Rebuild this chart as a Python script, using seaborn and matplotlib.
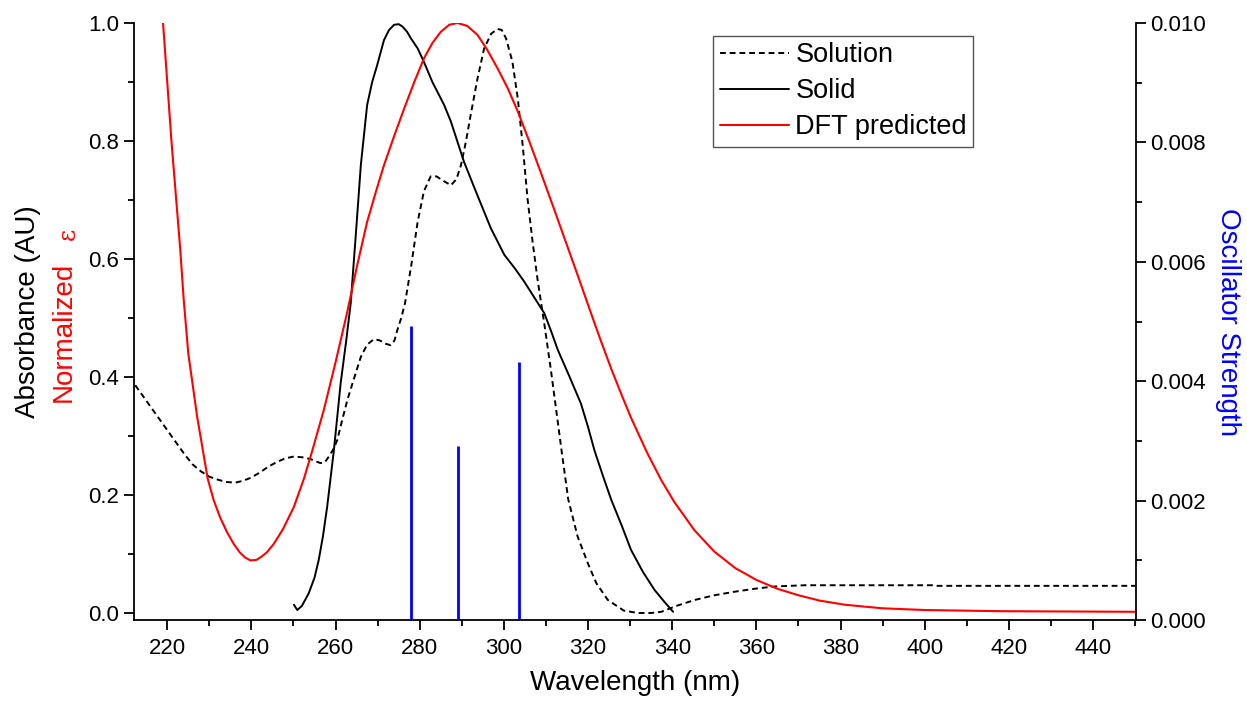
import matplotlib
matplotlib.use("Agg")
import matplotlib.pyplot as plt
from matplotlib.ticker import MultipleLocator, FormatStrFormatter
import seaborn as sns
import pandas as pd

# ---------------- data ----------------
solution_wl = [212.4, 214.0, 216.0, 218.0, 220.0, 222.0, 224.0, 226.0, 228.0, 230.0, 232.0,
               234.0, 236.2, 238.0, 239.8, 242.0, 244.0, 246.1, 248.0, 250.0, 252.0, 254.0,
               256.4, 257.5, 258.5, 259.5, 260.4, 261.5, 262.8, 264.5, 266.0, 267.5, 269.1,
               270.5, 272.0, 273.1, 274.0, 274.7, 275.6, 276.5, 278.0, 279.5, 281.0, 282.6,
               284.0, 285.5, 287.4, 288.7, 289.8, 291.0, 292.1, 293.7, 295.3, 297.0, 298.5,
               299.5, 300.5, 302.0, 303.3, 304.5, 305.6, 306.8, 308.0, 309.6, 311.2, 312.5,
               313.8, 315.3, 317.5, 319.9, 322.0, 324.7, 328.5, 331.8, 335.0, 337.4, 341.0,
               345.3, 350.0, 354.8, 359.5, 364.4, 371.5, 389.8, 401.7, 403.0, 450.0]
solution_abs = [0.386, 0.370, 0.350, 0.330, 0.310, 0.290, 0.270, 0.252, 0.240, 0.231, 0.226,
                0.222, 0.221, 0.224, 0.229, 0.238, 0.248, 0.256, 0.262, 0.265, 0.264, 0.261,
                0.254, 0.256, 0.266, 0.278, 0.293, 0.325, 0.361, 0.400, 0.434, 0.455, 0.464,
                0.462, 0.456, 0.454, 0.462, 0.480, 0.500, 0.525, 0.590, 0.663, 0.715, 0.740,
                0.740, 0.733, 0.725, 0.735, 0.759, 0.800, 0.844, 0.905, 0.957, 0.982, 0.990,
                0.988, 0.974, 0.935, 0.872, 0.790, 0.703, 0.630, 0.565, 0.490, 0.410, 0.340,
                0.270, 0.192, 0.130, 0.085, 0.050, 0.022, 0.004, 0.000, 0.000, 0.002, 0.012,
                0.022, 0.030, 0.036, 0.041, 0.045, 0.047, 0.047, 0.047, 0.046, 0.046]

solid_wl = [250.1, 250.9, 252.0, 253.6, 255.0, 256.0, 257.0, 258.0, 259.6, 261.2, 262.5,
            263.6, 265.0, 266.0, 267.5, 268.7, 269.9, 271.5, 272.7, 273.9, 275.0, 275.9,
            277.0, 277.9, 279.5, 281.0, 283.0, 285.8, 287.4, 290.5, 293.7, 296.9, 300.1,
            302.5, 304.8, 307.2, 309.6, 311.2, 312.8, 315.5, 318.3, 320.0, 321.5, 323.5,
            325.5, 328.0, 330.2, 333.0, 335.8, 338.0, 340.2]
solid_abs = [0.014, 0.005, 0.012, 0.033, 0.060, 0.090, 0.130, 0.180, 0.276, 0.389, 0.460,
             0.525, 0.660, 0.759, 0.861, 0.900, 0.929, 0.971, 0.988, 0.997, 0.998, 0.994,
             0.985, 0.974, 0.957, 0.934, 0.900, 0.861, 0.833, 0.765, 0.708, 0.652, 0.607,
             0.585, 0.562, 0.535, 0.508, 0.478, 0.446, 0.402, 0.355, 0.315, 0.276, 0.233,
             0.192, 0.148, 0.107, 0.070, 0.039, 0.020, 0.002]

dft_wl = [219.0, 221.0, 223.1, 223.9, 225.0, 227.1, 229.6, 231.0, 232.5, 234.2, 235.8,
          237.2, 238.5, 239.8, 241.2, 242.5, 243.7, 245.3, 247.5, 250.1, 252.5, 254.5,
          257.2, 260.0, 262.8, 265.0, 267.5, 269.5, 271.5, 274.0, 276.3, 278.7, 281.0,
          283.0, 285.0, 287.0, 289.0, 291.3, 293.7, 296.0, 298.5, 301.0, 303.3, 306.0,
          308.8, 312.0, 315.2, 318.0, 320.7, 323.0, 325.5, 328.0, 330.2, 334.0, 337.4,
          340.5, 345.3, 350.0, 355.0, 360.0, 365.0, 370.0, 375.0, 381.0, 389.8, 400.0,
          418.3, 450.0]
dft_eps = [1.000, 0.800, 0.615, 0.532, 0.440, 0.333, 0.228, 0.192, 0.163, 0.137, 0.117,
           0.103, 0.094, 0.089, 0.090, 0.096, 0.103, 0.117, 0.142, 0.180, 0.228, 0.276,
           0.344, 0.425, 0.511, 0.585, 0.663, 0.712, 0.759, 0.810, 0.855, 0.900, 0.940,
           0.966, 0.985, 0.997, 1.000, 0.995, 0.980, 0.955, 0.923, 0.888, 0.850, 0.800,
           0.746, 0.683, 0.619, 0.563, 0.508, 0.462, 0.414, 0.369, 0.331, 0.272, 0.225,
           0.188, 0.140, 0.104, 0.076, 0.056, 0.041, 0.030, 0.021, 0.014, 0.008, 0.005,
           0.003, 0.002]

stick_wl = [278.0, 289.0, 303.6]
stick_f = [0.00492, 0.00292, 0.00432]

x_ticks = [220, 240, 260, 280, 300, 320, 340, 360, 380, 400, 420, 440]

# ---------------- style ----------------
sns.set_style("ticks")
plt.rcParams['font.family'] = ['Liberation Sans', 'DejaVu Sans']
plt.rcParams['axes.linewidth'] = 1.3
plt.rcParams['axes.edgecolor'] = 'black'
plt.rcParams['xtick.color'] = 'black'
plt.rcParams['ytick.color'] = 'black'
plt.rcParams['text.color'] = 'black'
plt.rcParams['axes.labelcolor'] = 'black'

fig = plt.figure(figsize=(12.47, 7.08), dpi=100)
W, H = 1247, 708
left, right, bottom, top = 134, 1136, 620, 23
ax = fig.add_axes([left / W, 1 - bottom / H, (right - left) / W, (bottom - top) / H])
ax2 = ax.twinx()

df_sol = pd.DataFrame({"wl": solution_wl, "v": solution_abs})
df_solid = pd.DataFrame({"wl": solid_wl, "v": solid_abs})
df_dft = pd.DataFrame({"wl": dft_wl, "v": dft_eps})

sns.lineplot(data=df_sol, x="wl", y="v", ax=ax, color="black", lw=1.4,
             linestyle=(0, (3, 2)), label="Solution", sort=False, estimator=None)
sns.lineplot(data=df_solid, x="wl", y="v", ax=ax, color="black", lw=1.4,
             label="Solid", sort=False, estimator=None)
sns.lineplot(data=df_dft, x="wl", y="v", ax=ax, color="#ff0000", lw=1.5,
             label="DFT predicted", sort=False, estimator=None)

ax2.vlines(stick_wl, 0, stick_f, color="#0000ff", lw=2.0)

ax.set_xlim(212.1, 450.2)
ax.set_ylim(-0.0119, 1.0)
ax2.set_ylim(0, 0.010)

ax.set_xticks(x_ticks)
ax.xaxis.set_minor_locator(MultipleLocator(10))
ax.yaxis.set_major_locator(MultipleLocator(0.2))
ax.yaxis.set_minor_locator(MultipleLocator(0.1))
ax.yaxis.set_major_formatter(FormatStrFormatter('%.1f'))
ax2.yaxis.set_major_locator(MultipleLocator(0.002))
ax2.yaxis.set_minor_locator(MultipleLocator(0.001))
ax2.yaxis.set_major_formatter(FormatStrFormatter('%.3f'))

for a in (ax, ax2):
    a.tick_params(which='major', direction='out', length=7, width=1.3, labelsize=16,
                  color='black', labelcolor='black')
    a.tick_params(which='minor', direction='out', length=4, width=1.3, color='black')
    a.spines['top'].set_visible(False)
    for s in a.spines.values():
        s.set_color('black')
ax.spines['right'].set_visible(False)
ax2.spines['left'].set_visible(False)
ax2.spines['bottom'].set_visible(False)
ax.tick_params(axis='x', pad=6)

ax.set_xlabel("Wavelength (nm)", fontsize=20, labelpad=8, color='black')
ax.set_ylabel("")
ax2.set_ylabel("")

fig.text(28 / W, 1 - 312 / H, "Absorbance (AU)", rotation=90, ha='center', va='center',
         fontsize=20, color='black')
fig.text(64 / W, 1 - 402 / H, "Normalized", rotation=90, ha='center', va='bottom',
         fontsize=20, color='#ff0000')
fig.text(68 / W, 1 - 234 / H, "ε", rotation=90, ha='center', va='center',
         fontsize=17, color='#ff0000', family=['DejaVu Serif'])
fig.text(1228 / W, 1 - 322 / H, "Oscillator Strength", rotation=-90, ha='center', va='center',
         fontsize=20, color='#0000ff')

leg = ax.legend(loc='upper left',
                bbox_to_anchor=((713 - left) / (right - left), (bottom - 36) / (bottom - top)),
                fontsize=19.5, frameon=True, fancybox=False, framealpha=1, edgecolor='#555555',
                handlelength=2.55, handletextpad=0.25, labelspacing=0.36, borderpad=0.24,
                borderaxespad=0)
leg.get_frame().set_linewidth(1.0)
for t in leg.get_texts():
    t.set_color('black')

fig.savefig("out.png", dpi=100)
